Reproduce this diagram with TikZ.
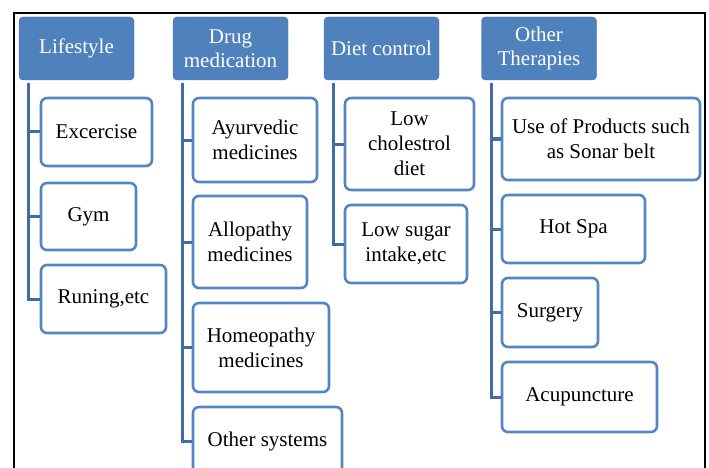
\documentclass[tikz,border=0pt]{standalone}
\usepackage{fontspec}
\setmainfont{Liberation Serif}
\definecolor{headblue}{RGB}{79,129,189}
\definecolor{boxblue}{RGB}{84,134,196}
\definecolor{linkblue}{RGB}{66,108,164}
\tikzset{
  head/.style={rectangle, rounded corners=4pt, fill=headblue, draw=headblue!85!black, line width=0.4pt,
    text=white, align=center, inner sep=0pt, minimum width=115pt, minimum height=63pt,
    font=\fontsize{21}{24}\selectfont},
  item/.style={rectangle, rounded corners=6pt, draw=boxblue, line width=2.6pt, fill=white,
    align=center, inner sep=0pt, font=\fontsize{21}{25}\selectfont},
  link/.style={draw=linkblue, line width=3pt},
}
\begin{document}
\begin{tikzpicture}[x=1pt,y=-1pt]
\useasboundingbox (0,0) rectangle (709,468);
\draw[line width=1.6pt] (14,490) -- (14,13) -- (705,13) -- (705,490);

% headings
\node[head] (ls) at (76.5,48.5) {Lifestyle};
\node[head] (dm) at (230.5,48.5) {Drug\\medication};
\node[head] (dc) at (381.5,48.5) {Diet control};
\node[head] (ot) at (539,48.5) {Other\\Therapies};

% lifestyle
\node[item, minimum width=111pt, minimum height=68pt] (ex) at (96.5,132) {Excercise};
\node[item, minimum width=95pt, minimum height=67pt] (gy) at (88.5,216.5) {Gym};
\node[item, minimum width=125pt, minimum height=68pt] (ru) at (103.5,299) {Runing,etc};

% drug medication
\node[item, minimum width=124pt, minimum height=84pt] (ay) at (255,140) {Ayurvedic\\medicines};
\node[item, minimum width=114pt, minimum height=92pt] (al) at (250,242) {Allopathy\\medicines};
\node[item, minimum width=136pt, minimum height=89pt] (ho) at (261,347.5) {Homeopathy\\medicines};
\node[item, minimum width=149pt, minimum height=69pt] (os) at (267.5,441.5) {Other systems};

% diet control
\node[item, minimum width=129pt, minimum height=92pt] (lc) at (409.5,144) {Low\\cholestrol\\diet};
\node[item, minimum width=122pt, minimum height=78pt] (lsu) at (406,244) {Low sugar\\intake,etc};

% other therapies
\node[item, minimum width=198pt, minimum height=82pt] (up) at (601,139) {Use of Products such\\as Sonar belt};
\node[item, minimum width=143pt, minimum height=68pt] (hs) at (573.5,229) {Hot Spa};
\node[item, minimum width=96pt, minimum height=69pt] (su) at (550,312.5) {Surgery};
\node[item, minimum width=155pt, minimum height=70pt] (ac) at (579.5,397) {Acupuncture};

% connectors
\foreach \h/\c in {ls/ex, ls/gy, ls/ru, dm/ay, dm/al, dm/ho, dm/os, dc/lc, dc/lsu, ot/up, ot/hs, ot/su, ot/ac}
  \draw[link] ([xshift=10pt,yshift=-3pt]\h.south west) |- (\c.west);
\end{tikzpicture}
\end{document}
